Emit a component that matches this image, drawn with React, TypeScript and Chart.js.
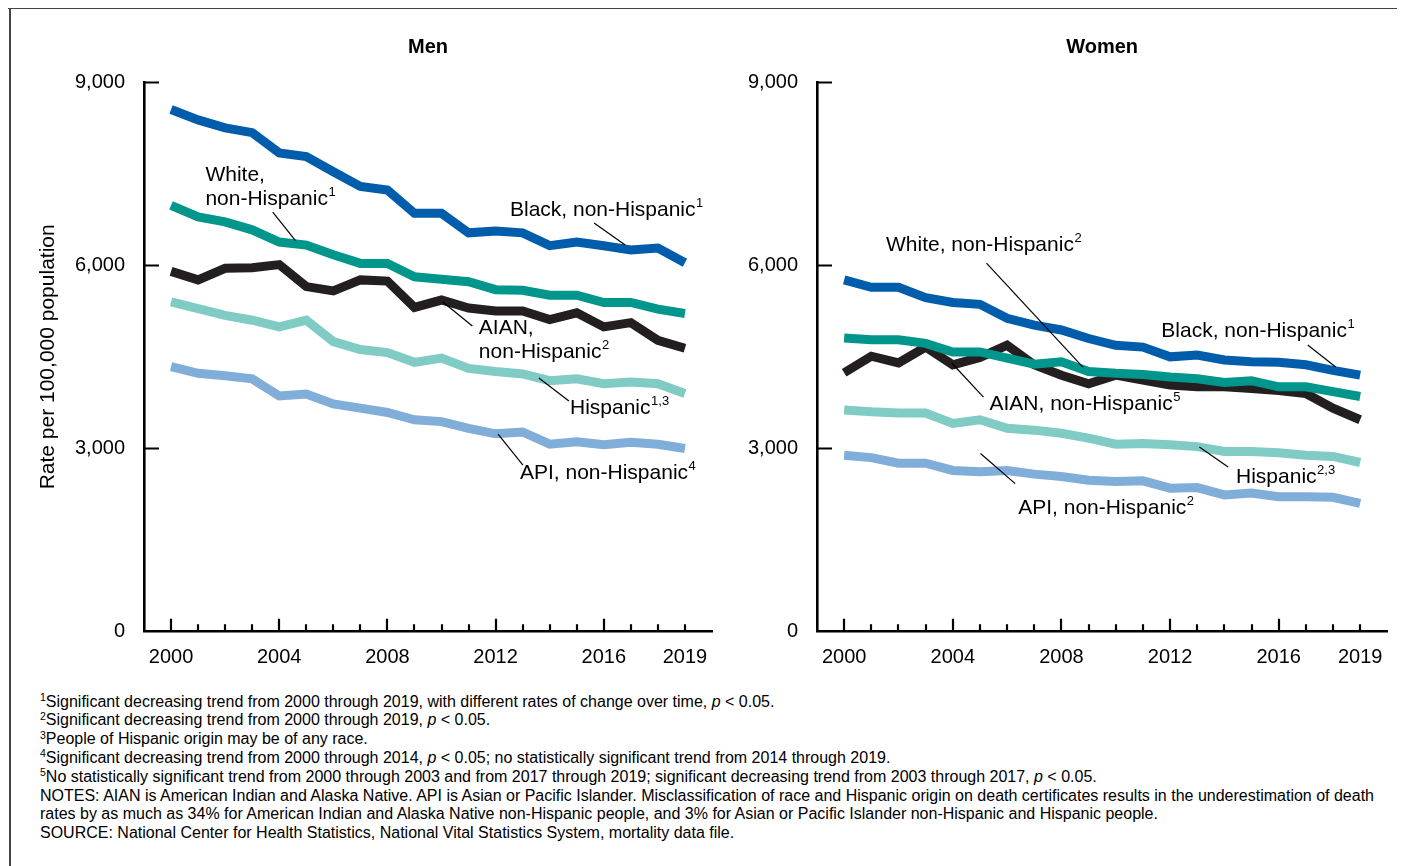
import React, { useEffect, useRef } from "react";
import { Chart, registerables } from "chart.js";

Chart.register(...registerables);

const FONT = '"Liberation Sans", Arial, Helvetica, sans-serif';

const YEARS = [2000, 2001, 2002, 2003, 2004, 2005, 2006, 2007, 2008, 2009, 2010, 2011, 2012, 2013, 2014, 2015, 2016, 2017, 2018, 2019];
const X_TICKS = [2000, 2004, 2008, 2012, 2016, 2019];
const Y_TICKS = [0, 3000, 6000, 9000];

const MEN_BLACK = [8550, 8380, 8250, 8170, 7840, 7780, 7530, 7290, 7230, 6850, 6850, 6530, 6560, 6530, 6320, 6380, 6320, 6250, 6280, 6040];
const MEN_WHITE = [6980, 6790, 6710, 6580, 6380, 6330, 6170, 6030, 6030, 5810, 5770, 5730, 5600, 5590, 5510, 5510, 5390, 5390, 5280, 5210];
const MEN_AIAN = [5900, 5760, 5950, 5960, 6010, 5650, 5580, 5760, 5740, 5310, 5430, 5300, 5250, 5250, 5110, 5220, 4990, 5060, 4770, 4640];
const MEN_HISPANIC = [5400, 5290, 5180, 5100, 4990, 5100, 4750, 4620, 4570, 4410, 4480, 4310, 4260, 4220, 4110, 4140, 4060, 4090, 4060, 3900];
const MEN_API = [4340, 4230, 4190, 4140, 3860, 3890, 3730, 3660, 3590, 3470, 3440, 3330, 3240, 3270, 3070, 3110, 3060, 3100, 3070, 3000];

const WOMEN_BLACK = [5760, 5640, 5640, 5470, 5390, 5360, 5130, 5020, 4940, 4800, 4690, 4660, 4500, 4530, 4450, 4420, 4410, 4370, 4280, 4200];
const WOMEN_WHITE = [4810, 4780, 4780, 4720, 4580, 4580, 4480, 4380, 4420, 4260, 4230, 4210, 4170, 4140, 4080, 4110, 4010, 4010, 3930, 3850];
const WOMEN_AIAN = [4240, 4510, 4400, 4660, 4370, 4490, 4690, 4370, 4200, 4060, 4200, 4120, 4040, 4010, 4010, 3980, 3950, 3900, 3660, 3470];
const WOMEN_HISPANIC = [3630, 3600, 3580, 3580, 3410, 3470, 3330, 3300, 3250, 3170, 3070, 3080, 3060, 3030, 2950, 2950, 2930, 2890, 2870, 2770];
const WOMEN_API = [2890, 2850, 2760, 2760, 2640, 2620, 2640, 2580, 2540, 2480, 2460, 2470, 2350, 2360, 2240, 2270, 2210, 2210, 2200, 2100];

const COLORS = {
  black: "#005dab",
  white: "#00968b",
  aian: "#231f20",
  hispanic: "#80cbc4",
  api: "#80aed8",
};

// Annotation labels: text anchor and leader line in data coordinates
const MEN_LABELS = [
  { lines: ["White,", "non-Hispanic^1"], x: 2001.27, y: 7476, dy: 24, leader: [2003.76, 6870, 2004.6, 6404] },
  { lines: ["Black, non-Hispanic^1"], x: 2012.53, y: 6903, dy: 24, leader: [2015.64, 6690, 2016.79, 6330] },
  { lines: ["AIAN,", "non-Hispanic^2"], x: 2011.38, y: 4971, dy: 24, leader: [2010.05, 5397, 2011.14, 5004] },
  { lines: ["Hispanic^1,3"], x: 2014.75, y: 3662, dy: 24, leader: [2013.6, 4153, 2014.71, 3777] },
  { lines: ["API, non-Hispanic^4"], x: 2012.9, y: 2598, dy: 24, leader: [2012.09, 3236, 2013.01, 2729] },
];
const WOMEN_LABELS = [
  { lines: ["White, non-Hispanic^2"], x: 2001.54, y: 6330, dy: 24, leader: [2005.24, 6035, 2008.79, 4333] },
  { lines: ["Black, non-Hispanic^1"], x: 2011.68, y: 4922, dy: 24, leader: [2017.07, 4693, 2018.1, 4333] },
  { lines: ["AIAN, non-Hispanic^5"], x: 2005.35, y: 3728, dy: 24, leader: [2003.96, 4399, 2005.13, 3842] },
  { lines: ["Hispanic^2,3"], x: 2014.43, y: 2533, dy: 24, leader: [2013.08, 3023, 2014.14, 2696] },
  { lines: ["API, non-Hispanic^2"], x: 2006.41, y: 2025, dy: 24, leader: [2005.02, 2917, 2006.3, 2425] },
];

const innerTicks = {
  id: "innerTicks",
  afterDraw(chart: any) {
    const { ctx } = chart;
    const x = chart.scales.x;
    const y = chart.scales.y;
    ctx.save();
    ctx.strokeStyle = "#000";
    ctx.lineWidth = 2.2;
    ctx.beginPath();
    YEARS.forEach((yr) => {
      const px = Math.round(x.getPixelForValue(yr));
      const major = (yr - 2000) % 4 === 0;
      const len = major ? 13 : 7.5;
      ctx.moveTo(px, y.bottom);
      ctx.lineTo(px, y.bottom - len);
    });
    Y_TICKS.filter((v) => v > 0).forEach((v) => {
      const py = Math.round(y.getPixelForValue(v)) + 0.5;
      ctx.moveTo(x.left, py);
      ctx.lineTo(x.left + 15, py);
    });
    ctx.stroke();
    ctx.restore();
  },
};

function drawRich(ctx: CanvasRenderingContext2D, text: string, x: number, y: number) {
  const parts = text.split("^");
  ctx.font = `21px ${FONT}`;
  ctx.fillText(parts[0], x, y);
  const cx = x + ctx.measureText(parts[0]).width;
  if (parts[1]) {
    ctx.font = `13px ${FONT}`;
    ctx.fillText(parts[1], cx + 0.5, y - 7);
  }
}

const annotations = {
  id: "annot",
  afterDatasetsDraw(chart: any, _args: any, opts: any) {
    const { ctx } = chart;
    const x = chart.scales.x;
    const y = chart.scales.y;
    ctx.save();
    ctx.fillStyle = "#000";
    ctx.strokeStyle = "#000";
    ctx.lineWidth = 1.2;
    ctx.textBaseline = "middle";
    ctx.textAlign = "left";
    (opts.items || []).forEach((it: any) => {
      const [x1, y1, x2, y2] = it.leader;
      ctx.beginPath();
      ctx.moveTo(x.getPixelForValue(x1), y.getPixelForValue(y1));
      ctx.lineTo(x.getPixelForValue(x2), y.getPixelForValue(y2));
      ctx.stroke();
      const tx = x.getPixelForValue(it.x);
      const ty = y.getPixelForValue(it.y);
      it.lines.forEach((ln: string, i: number) => drawRich(ctx, ln, tx, ty + i * it.dy));
    });
    if (opts.title) {
      ctx.font = `bold 20px ${FONT}`;
      ctx.textAlign = "center";
      ctx.fillText(opts.title, (x.left + x.right) / 2, opts.titleY);
    }
    ctx.restore();
  },
};

type Series = { values: number[]; color: string };

function makeChart(
  canvas: HTMLCanvasElement,
  series: Series[],
  labels: any[],
  title: string,
  axisWidth: number,
  padRight: number,
  yTitle: boolean
) {
  return new Chart(canvas, {
    type: "line",
    data: {
      datasets: series.map((s) => ({
        data: YEARS.map((yr, i) => ({ x: yr, y: s.values[i] })),
        borderColor: s.color,
        backgroundColor: s.color,
        borderWidth: 9,
        pointRadius: 0,
        tension: 0,
        fill: false,
        borderJoinStyle: "miter" as const,
        borderCapStyle: "butt" as const,
      })),
    },
    options: {
      animation: false,
      responsive: false,
      maintainAspectRatio: false,
      events: [],
      layout: { padding: { left: 0, right: padRight, top: 74, bottom: 8.3 } },
      plugins: {
        legend: { display: false },
        tooltip: { enabled: false },
        annot: { items: labels, title, titleY: 39 },
      } as any,
      scales: {
        x: {
          type: "linear",
          min: 1999,
          max: 2020,
          grid: { display: false, drawTicks: false },
          border: { display: true, color: "#000", width: 2.6 },
          ticks: {
            color: "#000",
            font: { family: FONT, size: 20 },
            padding: 14,
            maxRotation: 0,
            autoSkip: false,
            callback: (v: any) => String(v),
          },
          afterBuildTicks: (s: any) => {
            s.ticks = X_TICKS.map((v) => ({ value: v }));
          },
          afterFit: (s: any) => {
            s.height = 50;
          },
        },
        y: {
          min: 0,
          max: 9000,
          grid: { display: false, drawTicks: false },
          border: { display: true, color: "#000", width: 2.6 },
          ticks: {
            color: "#000",
            font: { family: FONT, size: 20 },
            padding: 19,
            callback: (v: any) => Number(v).toLocaleString("en-US"),
          },
          afterBuildTicks: (s: any) => {
            s.ticks = Y_TICKS.map((v) => ({ value: v }));
          },
          afterFit: (s: any) => {
            s.width = axisWidth;
          },
          title: {
            display: yTitle,
            text: "Rate per 100,000 population",
            color: "#000",
            font: { family: FONT, size: 21, lineHeight: 1.2 },
            padding: { top: 27.4, bottom: 0 },
          },
        },
      },
    },
    plugins: [innerTicks, annotations],
  });
}

const MEN_SERIES: Series[] = [
  { values: MEN_BLACK, color: COLORS.black },
  { values: MEN_WHITE, color: COLORS.white },
  { values: MEN_AIAN, color: COLORS.aian },
  { values: MEN_HISPANIC, color: COLORS.hispanic },
  { values: MEN_API, color: COLORS.api },
];
const WOMEN_SERIES: Series[] = [
  { values: WOMEN_BLACK, color: COLORS.black },
  { values: WOMEN_WHITE, color: COLORS.white },
  { values: WOMEN_AIAN, color: COLORS.aian },
  { values: WOMEN_HISPANIC, color: COLORS.hispanic },
  { values: WOMEN_API, color: COLORS.api },
];

const sup = (t: string) => (
  <span style={{ fontSize: 10.5, position: "relative", top: -5.5 }}>{t}</span>
);

export default function App() {
  const menRef = useRef<HTMLCanvasElement>(null);
  const womenRef = useRef<HTMLCanvasElement>(null);

  useEffect(() => {
    const a = makeChart(menRef.current!, MEN_SERIES, MEN_LABELS, "Men", 136, 20, true);
    const b = makeChart(womenRef.current!, WOMEN_SERIES, WOMEN_LABELS, "Women", 77, 17.7, false);
    return () => {
      a.destroy();
      b.destroy();
    };
  }, []);

  const lineStyle: React.CSSProperties = { whiteSpace: "nowrap", height: 18.8 };

  return (
    <div style={{ position: "relative", width: 1397, height: 858, fontFamily: FONT }}>
      <div style={{ position: "absolute", left: 0, top: -1.5, width: 1397, height: 2, background: "#444" }} />
      <div style={{ position: "absolute", left: 0.5, top: -1.5, width: 2, height: 860, background: "#444" }} />
      <canvas
        ref={menRef}
        width={724}
        height={682}
        style={{ position: "absolute", left: 0, top: 0, width: 724, height: 682, display: "block" }}
      />
      <canvas
        ref={womenRef}
        width={665}
        height={682}
        style={{ position: "absolute", left: 732, top: 0, width: 665, height: 682, display: "block" }}
      />
      <div
        style={{
          position: "absolute",
          left: 32,
          top: 684.6,
          fontSize: 16,
          lineHeight: "18.8px",
          color: "#000",
        }}
      >
        <div style={lineStyle}>
          {sup("1")}Significant decreasing trend from 2000 through 2019, with different rates of change over time, <i>p</i> &lt; 0.05.
        </div>
        <div style={lineStyle}>
          {sup("2")}Significant decreasing trend from 2000 through 2019, <i>p</i> &lt; 0.05.
        </div>
        <div style={lineStyle}>{sup("3")}People of Hispanic origin may be of any race.</div>
        <div style={lineStyle}>
          {sup("4")}Significant decreasing trend from 2000 through 2014, <i>p</i> &lt; 0.05; no statistically significant trend from 2014 through 2019.
        </div>
        <div style={lineStyle}>
          {sup("5")}No statistically significant trend from 2000 through 2003 and from 2017 through 2019; significant decreasing trend from 2003 through 2017, <i>p</i> &lt; 0.05.
        </div>
        <div style={lineStyle}>
          NOTES: AIAN is American Indian and Alaska Native. API is Asian or Pacific Islander. Misclassification of race and Hispanic origin on death certificates results in the underestimation of death
        </div>
        <div style={lineStyle}>
          rates by as much as 34% for American Indian and Alaska Native non-Hispanic people, and 3% for Asian or Pacific Islander non-Hispanic and Hispanic people.
        </div>
        <div style={lineStyle}>
          SOURCE: National Center for Health Statistics, National Vital Statistics System, mortality data file.
        </div>
      </div>
    </div>
  );
}
